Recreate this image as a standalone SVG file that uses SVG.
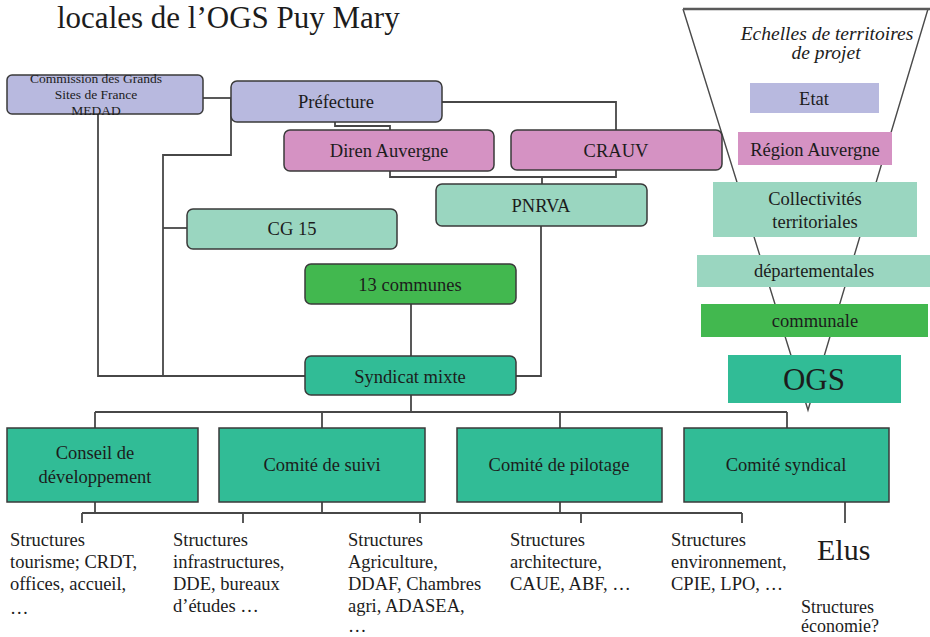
<svg xmlns="http://www.w3.org/2000/svg" width="930" height="637" viewBox="0 0 930 637" font-family="Liberation Serif, DejaVu Serif, serif">
<style>
text{font-family:'Liberation Serif','DejaVu Serif',serif}
.t{fill:#1c1c1c;text-anchor:middle;font-size:18.5px}
.s{fill:#1c1c1c;font-size:18.5px}
.box{stroke:#3a3a3a;stroke-width:1.5}
.lav{fill:#b8b9df}
.pink{fill:#d592c3}
.lt{fill:#9ad6c0}
.gr{fill:#42b84f}
.teal{fill:#31bc96}
.c{fill:none;stroke:#474747;stroke-width:1.8}
</style>
<rect width="930" height="637" fill="#ffffff"/>
<text class="s" x="57" y="28" style="font-size:31px">locales de l’OGS Puy Mary</text>

<g id="funnel">
<polyline points="683,9 808,410 928,9" fill="none" stroke="#4a4a4a" stroke-width="1.4"/>
<line x1="683" y1="9" x2="930" y2="9" stroke="#5a5a5a" stroke-width="2.5"/>
</g>

<g id="connectors">
<path class="c" d="M203,98 H231"/>
<path class="c" d="M231,98 V155 H163 V376"/>
<path class="c" d="M163,228 H187"/>
<path class="c" d="M98,114 V376 H305"/>
<path class="c" d="M335,122 V126 H390 V130"/>
<path class="c" d="M442,102 H616 V130"/>
<path class="c" d="M390,171 V177 H616 V170"/>
<path class="c" d="M542,177 V184"/>
<path class="c" d="M411,304 V356"/>
<path class="c" d="M541,226 V376 H516"/>
<path class="c" d="M411,395 V412 M95,412 H787 M95,412 V428 M322,412 V428 M560,412 V428 M787,412 V428"/>
<path class="c" d="M95,502 V513 M322,502 V513 M560,502 V513 M82,513 H742 M82,513 V523 M243,513 V523 M420,513 V523 M581,513 V523 M742,513 V523"/>
<path class="c" d="M845,502 V523"/>
</g>

<g id="commission"><rect class="box lav" x="7" y="75" width="196" height="39" rx="5"/>
<text class="t" x="96" y="83" style="font-size:13.5px">Commission des Grands</text>
<text class="t" x="96" y="99" style="font-size:13.5px">Sites de France</text>
<text class="t" x="96" y="115" style="font-size:13.5px">MEDAD</text></g>
<g id="prefecture"><rect class="box lav" x="231" y="81" width="211" height="41" rx="6"/><text class="t" x="336" y="108">Préfecture</text></g>
<g id="diren"><rect class="box pink" x="284" y="130" width="210" height="41" rx="6"/><text class="t" x="389" y="157">Diren Auvergne</text></g>
<g id="crauv"><rect class="box pink" x="511" y="130" width="211" height="40" rx="6"/><text class="t" x="616" y="157">CRAUV</text></g>
<g id="pnrva"><rect class="box lt" x="436" y="184" width="211" height="42" rx="6"/><text class="t" x="541" y="212">PNRVA</text></g>
<g id="cg15"><rect class="box lt" x="187" y="209" width="210" height="40" rx="6"/><text class="t" x="292" y="235">CG 15</text></g>
<g id="communes13"><rect class="box gr" x="305" y="264" width="211" height="40" rx="6"/><text class="t" x="410" y="291">13 communes</text></g>
<g id="syndicat"><rect class="box teal" x="305" y="356" width="211" height="39" rx="6"/><text class="t" x="410" y="383">Syndicat mixte</text></g>
<g id="conseil"><rect class="box teal" x="7" y="428" width="191" height="74"/><text class="t" x="95" y="459">Conseil de</text><text class="t" x="95" y="483">développement</text></g>
<g id="suivi"><rect class="box teal" x="219" y="428" width="206" height="74"/><text class="t" x="322" y="471">Comité de suivi</text></g>
<g id="pilotage"><rect class="box teal" x="457" y="428" width="205" height="74"/><text class="t" x="559" y="471">Comité de pilotage</text></g>
<g id="syndical"><rect class="box teal" x="684" y="428" width="205" height="74"/><text class="t" x="786" y="471">Comité syndical</text></g>

<g id="echelles">
<text class="t" x="827" y="40" style="font-size:19.5px;font-style:italic">Echelles de territoires</text>
<text class="t" x="826" y="59" style="font-size:19.5px;font-style:italic">de projet</text>
</g>
<g id="etat"><rect class="lav" x="750" y="83" width="129" height="30"/><text class="t" x="814" y="105">Etat</text></g>
<g id="region"><rect class="pink" x="738" y="132" width="154" height="33"/><text class="t" x="815" y="156">Région Auvergne</text></g>
<g id="collectivites"><rect class="lt" x="713" y="182" width="204" height="55"/><text class="t" x="815" y="205">Collectivités</text><text class="t" x="815" y="228">territoriales</text></g>
<g id="departementales"><rect class="lt" x="697" y="255" width="233" height="32"/><text class="t" x="814" y="277">départementales</text></g>
<g id="communale"><rect class="gr" x="701" y="304" width="227" height="33"/><text class="t" x="815" y="327">communale</text></g>
<g id="ogs"><rect class="teal" x="728" y="355" width="173" height="48"/><text class="t" x="814" y="390" style="font-size:31px">OGS</text></g>

<g id="structures">
<text class="s" x="10" y="546">Structures</text>
<text class="s" x="10" y="568">tourisme; CRDT,</text>
<text class="s" x="10" y="590">offices, accueil,</text>
<text class="s" x="10" y="614">…</text>
<text class="s" x="173" y="546">Structures</text>
<text class="s" x="173" y="568">infrastructures,</text>
<text class="s" x="173" y="590">DDE, bureaux</text>
<text class="s" x="173" y="612">d’études …</text>
<text class="s" x="348" y="546">Structures</text>
<text class="s" x="348" y="568">Agriculture,</text>
<text class="s" x="348" y="590">DDAF, Chambres</text>
<text class="s" x="348" y="612">agri, ADASEA,</text>
<text class="s" x="348" y="632">…</text>
<text class="s" x="510" y="546">Structures</text>
<text class="s" x="510" y="568">architecture,</text>
<text class="s" x="510" y="590">CAUE, ABF, …</text>
<text class="s" x="671" y="546">Structures</text>
<text class="s" x="671" y="568">environnement,</text>
<text class="s" x="671" y="590">CPIE, LPO,  …</text>
<text class="s" x="817" y="560" style="font-size:30px">Elus</text>
<text class="s" x="801" y="613" style="font-size:18px">Structures</text>
<text class="s" x="801" y="632" style="font-size:18px">économie?</text>
</g>
</svg>
